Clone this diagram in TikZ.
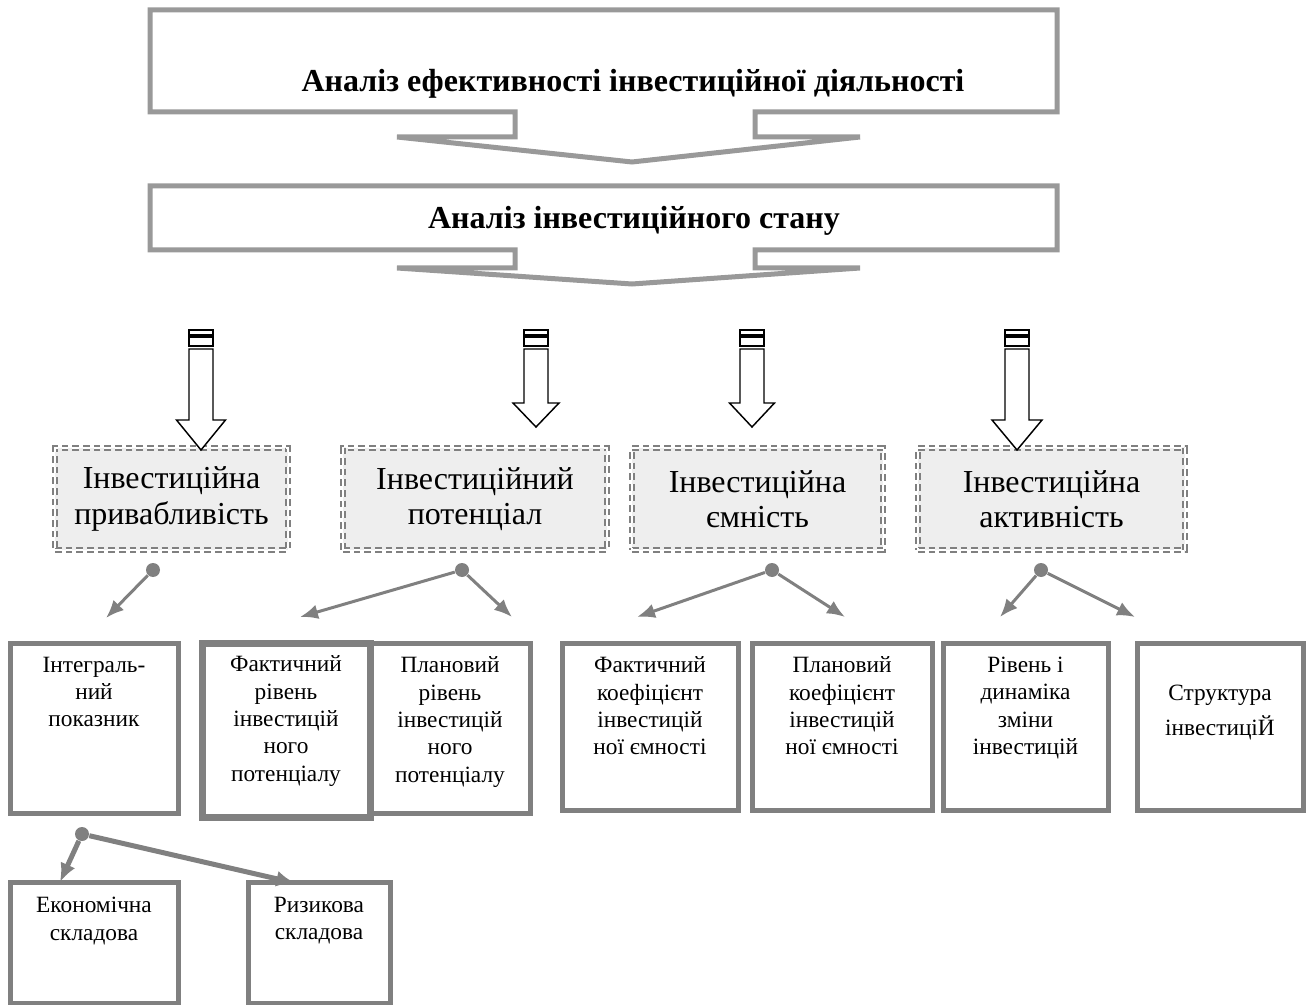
\documentclass[tikz,border=0pt]{standalone}
\usepackage{fontspec}
\setmainfont{Liberation Serif}
\usetikzlibrary{arrows.meta,positioning}

\tikzset{every picture/.style={line width=0.75pt}}
\tikzset{
	stage/.style={draw={rgb, 255:red, 153; green, 153; blue, 153 }, line width=3.75pt, fill=white},
	stagetext/.style={anchor=base, inner sep=0.75pt, font=\fontsize{24}{28}\selectfont\bfseries},
	factor/.style={draw={rgb, 255:red, 128; green, 128; blue, 128 }, double=white, double distance=1.3pt, line width=1.5pt, dash pattern={on 5pt off 3pt}, fill={rgb, 255:red, 238; green, 238; blue, 238 }, minimum height=76.5pt, align=center, inner sep=0.75pt, font=\fontsize{24}{26.5}\selectfont},
	box/.style={draw={rgb, 255:red, 128; green, 128; blue, 128 }, line width=3.75pt, fill=white, inner sep=0pt},
	boxtext/.style={align=center, inner sep=0pt, font=\fontsize{17.5}{20.5}\selectfont},
	hollow/.style={draw=black, line width=1.1pt, fill=white},
	dot/.style={circle, fill={rgb, 255:red, 128; green, 128; blue, 128 }, inner sep=0pt, minimum size=10.5pt},
	link/.style={color={rgb, 255:red, 128; green, 128; blue, 128 }, line width=2.25pt, -{Latex[length=13.5pt,width=11pt]}},
	heavylink/.style={link, line width=3.75pt, -{Latex[length=14pt,width=12pt]}}
}

\begin{document}
\begin{tikzpicture}[x=0.75pt,y=0.75pt,yscale=-1,xscale=1]
	\useasboundingbox (0,0) rectangle (1310,1005);
	
	%Shape: Box with chevron
	\draw [stage] (150,10) -- (1057,10) -- (1057,112) -- (755,112) -- (755,137) -- (860,137) -- (632,162) -- (397,137) -- (515,137) -- (515,112) -- (150,112) -- cycle ;
	%Shape: Box with chevron
	\draw [stage] (150,186) -- (1057,186) -- (1057,250) -- (755,250) -- (755,268) -- (860,268) -- (632,284) -- (397,268) -- (515,268) -- (515,250) -- (150,250) -- cycle ;
	
	% Text Node
	\node [stagetext] (efficiency) at (633,92) {Аналіз ефективності інвестиційної діяльності};
	% Text Node
	\node [stagetext] (state) at (634,229) {Аналіз інвестиційного стану};
	
	%Shape: Dashed boxes
	\node [factor, minimum width=174.75pt] (attract) at (171.5,499) {Інвестиційна\\привабливість};
	\node [factor, minimum width=198pt] (potential) at (475,499) {Інвестиційний\\потенціал};
	\node [factor, minimum width=188.25pt] (capacity) at (757.5,499) {Інвестиційна\\ємність};
	\node [factor, minimum width=200.25pt] (activity) at (1051.5,499) {Інвестиційна\\активність};
	
	%Shape: Block arrows
	\foreach \ax/\hs/\tp/\hw in {201/420/450/24.5, 536/403/427/23, 752/403/427/22.5, 1017/420/450/25} {
		\draw [hollow] (\ax-12,330) rectangle (\ax+12,335) ;
		\draw [hollow] (\ax-12,337) rectangle (\ax+12,346) ;
		\draw [hollow] (\ax-12,349) -- (\ax-12,\hs) -- (\ax-\hw,\hs) -- (\ax,\tp) -- (\ax+\hw,\hs) -- (\ax+12,\hs) -- (\ax+12,349) -- cycle ;
	}
	
	%Shape: Indicator boxes
	\node [box, minimum width=126pt, minimum height=127.5pt] (integral) at (94,728) {};
	\node [box, minimum width=120pt, minimum height=127.5pt] (planlevel) at (450,728) {};
	\node [box, line width=5.25pt, minimum width=126pt, minimum height=130.5pt] (factlevel) at (286,730) {};
	\node [box, minimum width=132pt, minimum height=125.25pt] (factcoef) at (650,726.5) {};
	\node [box, minimum width=135pt, minimum height=125.25pt] (plancoef) at (842,726.5) {};
	\node [box, minimum width=123.75pt, minimum height=125.25pt] (dynamics) at (1025.5,726.5) {};
	\node [box, minimum width=124.5pt, minimum height=125.25pt] (structure) at (1220,726.5) {};
	\node [box, minimum width=126pt, minimum height=90.75pt] (economic) at (94,942.5) {};
	\node [box, minimum width=106.5pt, minimum height=90.75pt] (risk) at (319,942.5) {};
	
	% Text Node
	\node [boxtext, below=12pt of integral.north] (integraltext) {Інтеграль-\\ний\\показник};
	\node [boxtext, below=12pt of factlevel.north] (factleveltext) {Фактичний\\рівень\\інвестицій\\ного\\потенціалу};
	\node [boxtext, below=12pt of planlevel.north] (planleveltext) {Плановий\\рівень\\інвестицій\\ного\\потенціалу};
	\node [boxtext, below=12pt of factcoef.north] (factcoeftext) {Фактичний\\коефіцієнт\\інвестицій\\ної ємності};
	\node [boxtext, below=12pt of plancoef.north] (plancoeftext) {Плановий\\коефіцієнт\\інвестицій\\ної ємності};
	\node [boxtext, below=12pt of dynamics.north] (dynamicstext) {Рівень і\\динаміка\\зміни\\інвестицій};
	\node [boxtext, font=\fontsize{17.5}{26}\selectfont, below=33pt of structure.north] (structuretext) {Структура\\інвестиціЙ};
	\node [boxtext, below=13pt of economic.north] (economictext) {Економічна\\складова};
	\node [boxtext, below=13pt of risk.north] (risktext) {Ризикова\\складова};
	
	%Shape: Connectors
	\node [dot] (d1) at (153,570) {};
	\node [dot] (d2) at (462,570) {};
	\node [dot] (d3) at (772,570) {};
	\node [dot] (d4) at (1041,570) {};
	\node [dot] (d5) at (82,834) {};
	\coordinate (t1) at (106,618);
	\coordinate (t2a) at (300,617);
	\coordinate (t2b) at (512,617);
	\coordinate (t3a) at (637,617);
	\coordinate (t3b) at (845,617);
	\coordinate (t4a) at (1000,617);
	\coordinate (t4b) at (1135,617);
	\coordinate (t5a) at (60,882);
	\coordinate (t5b) at (295,883);
	\draw [link] (d1) -- (t1) ;
	\draw [link] (d2) -- (t2a) ;
	\draw [link] (d2) -- (t2b) ;
	\draw [link] (d3) -- (t3a) ;
	\draw [link] (d3) -- (t3b) ;
	\draw [link] (d4) -- (t4a) ;
	\draw [link] (d4) -- (t4b) ;
	\draw [heavylink] (d5) -- (t5a) ;
	\draw [heavylink] (d5) -- (t5b) ;
	
\end{tikzpicture}
\end{document}
